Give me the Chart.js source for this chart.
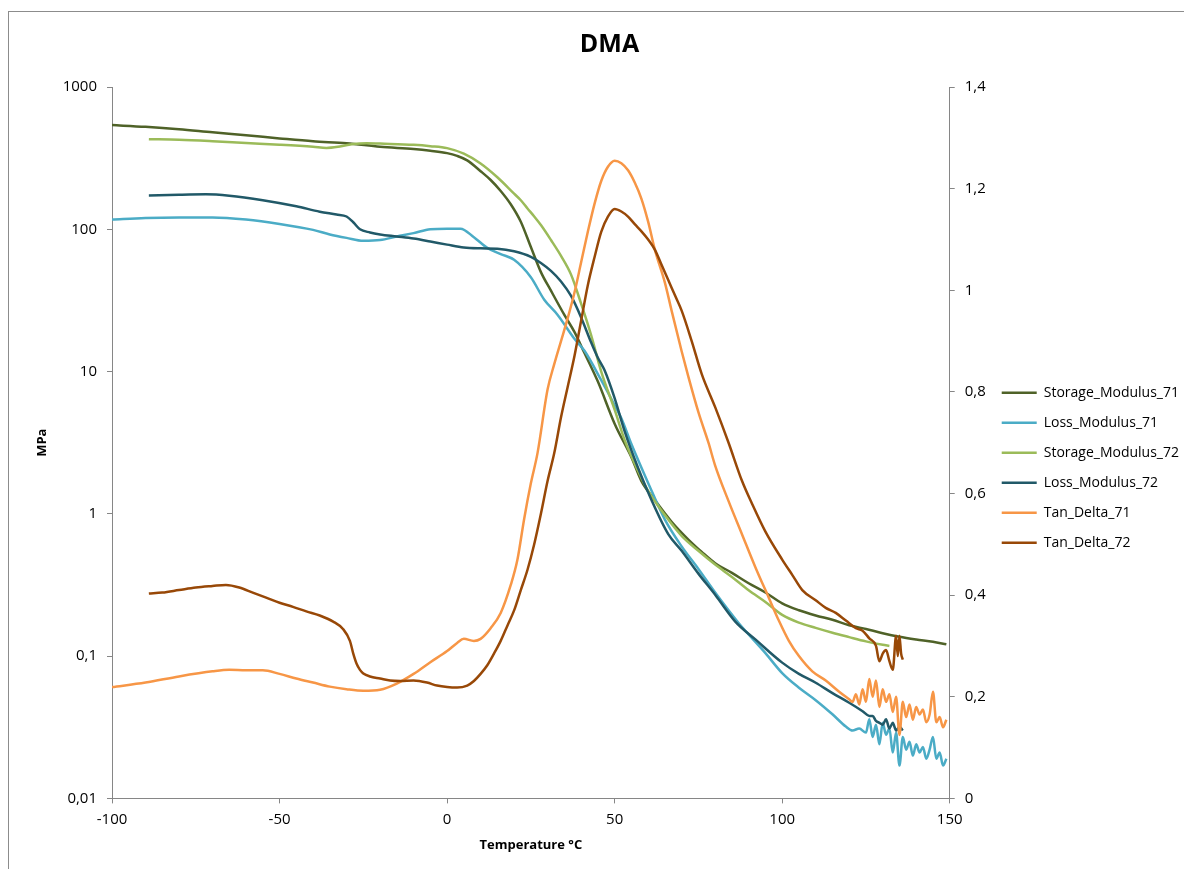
<!DOCTYPE html>
<html>
<head>
<meta charset="utf-8">
<script src="https://cdn.jsdelivr.net/npm/chart.js@4.4.0/dist/chart.umd.min.js"></script>
<style>
html, body { margin: 0; padding: 0; background: #fff; overflow: hidden; }
#frame { position: absolute; left: 8px; top: 11px; width: 1300px; height: 1000px; border: 1px solid #8c8c8c; }
#wrap { position: absolute; left: 9px; top: 12px; width: 1180px; height: 857px; }
</style>
</head>
<body>
<div id="frame"></div>
<div id="wrap"><canvas id="dma"></canvas></div>
<script>
// tick labels
var xTicks = [-100, -50, 0, 50, 100, 150];
var yTickVals = [0.01, 0.1, 1, 10, 100, 1000];
var yTickLabels = ["0,01", "0,1", "1", "10", "100", "1000"];
var y2TickVals = [0, 0.2, 0.4, 0.6, 0.8, 1, 1.2, 1.4];
var y2TickLabels = ["0", "0,2", "0,4", "0,6", "0,8", "1", "1,2", "1,4"];

// Storage_Modulus_71 (MPa)
var sm71Temp = [-100,-90,-80,-70,-60,-50,-40,-30,-20,-10,-5,0,3,6,10,13,16,19,22,25,28,31,35,38,41,45,50,55,58,62,67,72,76,80,85,90,95,100,105,110,115,120,125,130,135,140,145,149];
var sm71Val = [540,525,505,480,458,435,415,403,380,366,356,343,328,305,256,222,186,150,113,75,50,37,25,19,13.5,8.5,4.3,2.5,1.7,1.25,0.88,0.66,0.54,0.45,0.385,0.325,0.28,0.235,0.21,0.193,0.18,0.165,0.155,0.145,0.137,0.131,0.126,0.121];

// Loss_Modulus_71 (MPa)
var lm71Temp = [-100,-90,-80,-70,-60,-50,-40,-35,-30,-25,-20,-15,-10,-5,0,4,8,12,16,20,25,29,33,38,41,46,50,52,55,60,65,70,75,80,87,95,100,105,110,115,119,121,123,125,126,127,128,129,130,131,132,133,134,135,136,137,138,139,140,141,142,143,144,145,146,147,148,149];
var lm71Val = [117,120,121,121,117,109,99,92,87,83,84,89,94,100,101,101,88,74,67,61,46,32,25,17,14,8.7,5.8,4.7,3.1,1.65,0.91,0.59,0.41,0.28,0.171,0.105,0.076,0.06,0.049,0.039,0.032,0.030,0.031,0.029,0.036,0.027,0.033,0.024,0.034,0.028,0.031,0.021,0.029,0.017,0.027,0.022,0.025,0.020,0.024,0.021,0.023,0.019,0.022,0.027,0.019,0.021,0.017,0.019];

// Storage_Modulus_72 (MPa)
var sm72Temp = [-89,-80,-70,-60,-50,-40,-36,-32,-28,-24,-20,-10,-5,0,5,10,15,20,22,24,26,28,31,34,37,40,43,46,50,53,57,60,65,70,75,80,85,90,95,100,105,110,115,120,125,130,132];
var sm72Val = [430,426,416,404,393,380,373,382,398,403,400,392,384,372,340,290,232,178,160,140,123,107,84,65,48,30,18,10,5.4,3.3,2.0,1.45,0.98,0.7,0.55,0.44,0.36,0.29,0.24,0.195,0.172,0.158,0.146,0.136,0.127,0.12,0.118];

// Loss_Modulus_72 (MPa)
var lm72Temp = [-89,-80,-72,-65,-55,-45,-38,-33,-30,-28,-26,-23,-20,-15,-10,-5,0,5,10,15,20,25,28,31,34,37,40,43,45,47,50,53,57,61,66,70,75,80,86,92,100,105,110,115,120,124,126,127,128,129,130,131,132,133,134,135,136];
var lm72Val = [173,175,176,172,160,145,133,127,123,112,100,95,92,89,86,82,78,74.5,73.5,73,70,64,58,51,43,34,24,16,12.5,10.2,6.5,3.8,2.1,1.25,0.72,0.55,0.38,0.27,0.175,0.131,0.09,0.075,0.065,0.055,0.047,0.041,0.038,0.038,0.035,0.034,0.033,0.036,0.031,0.034,0.030,0.032,0.030];

// Tan_Delta_71 (right axis)
var td71Temp = [-100,-90,-80,-70,-65,-60,-55,-50,-45,-40,-35,-30,-25,-20,-15,-10,-5,0,3,5,8,10,13,16,19,21,23,25,27,30,32,34,36,38,40,42,44,46,48,50,52,54,56,58,60,62,65,67,70,72,75,78,80,84,88,92,96,99,102,105,109,113,117,120,121,122,123,124,125,126,127,128,129,130,131,132,133,134,135,136,137,138,139,140,141,142,143,144,145,146,147,148,149];
var td71Val = [0.219,0.228,0.24,0.25,0.253,0.252,0.252,0.245,0.236,0.228,0.22,0.215,0.212,0.214,0.226,0.245,0.268,0.29,0.306,0.314,0.31,0.314,0.335,0.365,0.42,0.47,0.55,0.62,0.68,0.805,0.855,0.9,0.945,0.995,1.055,1.115,1.17,1.215,1.243,1.255,1.25,1.236,1.212,1.18,1.135,1.08,1.015,0.96,0.88,0.83,0.76,0.70,0.655,0.585,0.52,0.455,0.395,0.35,0.31,0.28,0.25,0.232,0.21,0.195,0.19,0.205,0.185,0.215,0.19,0.235,0.2,0.232,0.18,0.215,0.19,0.205,0.17,0.2,0.125,0.19,0.16,0.185,0.155,0.18,0.165,0.175,0.15,0.165,0.21,0.15,0.16,0.14,0.155];

// Tan_Delta_72 (right axis)
var td72Temp = [-89,-85,-80,-75,-70,-66,-62,-58,-54,-50,-46,-42,-38,-34,-31,-29,-28,-27,-26,-25,-23,-20,-17,-14,-10,-6,-3,0,3,6,8,10,12,14,16,18,20,22,24,26,28,30,32,34,36,38,40,42,44,46,48,50,52,54,56,58,60,62,64,66,68,70,73,76,80,84,88,91,95,100,103,106,110,113,116,119,122,124,126,128,129,130,131,132,133,134,134.5,135,135.5,136];
var td72Val = [0.403,0.405,0.41,0.415,0.418,0.42,0.415,0.405,0.395,0.385,0.377,0.368,0.36,0.348,0.333,0.31,0.285,0.265,0.253,0.246,0.24,0.236,0.232,0.231,0.232,0.228,0.222,0.219,0.218,0.222,0.231,0.245,0.262,0.285,0.31,0.34,0.37,0.41,0.45,0.5,0.56,0.625,0.68,0.75,0.81,0.87,0.94,1.01,1.065,1.115,1.145,1.16,1.155,1.145,1.13,1.116,1.1,1.08,1.05,1.02,0.99,0.96,0.90,0.835,0.77,0.70,0.625,0.58,0.525,0.47,0.44,0.41,0.39,0.375,0.365,0.35,0.335,0.33,0.315,0.3,0.27,0.285,0.292,0.27,0.253,0.32,0.28,0.32,0.285,0.273];

var FONT = "'Open Sans', 'DejaVu Sans', sans-serif";
var AXIS_GREY = "#868686";

function pts(t, v) {
    return t.map(function (x, i) { return {x: x, y: v[i]}; });
}

function line(label, t, v, color, axis, order) {
    return {
        label: label,
        data: pts(t, v),
        borderColor: color,
        backgroundColor: color,
        borderWidth: 2.5,
        pointRadius: 0,
        cubicInterpolationMode: "monotone",
        fill: false,
        yAxisID: axis,
        order: order
    };
}

function axisLook() {
    return {
        grid: { drawOnChartArea: false, drawTicks: true, tickLength: 5, color: AXIS_GREY },
        border: { color: AXIS_GREY, width: 1 }
    };
}

function draw() {
    var chart = new Chart("dma", {
        type: "line",
        data: {
            datasets: [
                line("Storage_Modulus_71", sm71Temp, sm71Val, "#4f6228", "y", 6),
                line("Loss_Modulus_71", lm71Temp, lm71Val, "#4bacc6", "y", 5),
                line("Storage_Modulus_72", sm72Temp, sm72Val, "#9bbb59", "y", 4),
                line("Loss_Modulus_72", lm72Temp, lm72Val, "#215968", "y", 3),
                line("Tan_Delta_71", td71Temp, td71Val, "#f79646", "y2", 2),
                line("Tan_Delta_72", td72Temp, td72Val, "#984807", "y2", 1)
            ]
        },
        options: {
            responsive: true,
            maintainAspectRatio: false,
            animation: false,
            layout: { padding: { left: 21, right: 0, top: 0, bottom: 12 } },
            plugins: {
                title: {
                    display: true,
                    text: "DMA",
                    color: "#000",
                    font: { family: FONT, size: 25, weight: "bold" },
                    padding: { top: 18, bottom: 27 }
                },
                legend: {
                    position: "right",
                    maxWidth: 240,
                    title: { display: true, text: "", font: { size: 12 }, padding: { top: 52, bottom: 0 } },
                    labels: {
                        usePointStyle: true,
                        pointStyle: "line",
                        pointStyleWidth: 35,
                        color: "#000",
                        font: { family: FONT, size: 14 },
                        padding: 16,
                        sort: function (a, b) { return a.datasetIndex - b.datasetIndex; }
                    }
                },
                tooltip: { enabled: false }
            },
            scales: {
                x: Object.assign(axisLook(), {
                    type: "linear",
                    min: -100,
                    max: 150,
                    afterBuildTicks: function (s) { s.ticks = xTicks.map(function (v) { return {value: v}; }); },
                    ticks: {
                        color: "#000",
                        font: { family: FONT, size: 15 },
                        padding: 7,
                        callback: function (v) { return String(v); }
                    },
                    title: {
                        display: true,
                        text: "Temperature °C",
                        color: "#000",
                        font: { family: FONT, size: 13, weight: "bold" },
                        padding: { top: 2, bottom: 4 }
                    }
                }),
                y: Object.assign(axisLook(), {
                    type: "logarithmic",
                    position: "left",
                    min: 0.01,
                    max: 1000,
                    afterBuildTicks: function (s) { s.ticks = yTickVals.map(function (v) { return {value: v}; }); },
                    afterFit: function (s) { s.width = 82; },
                    ticks: {
                        color: "#000",
                        font: { family: FONT, size: 15 },
                        padding: 10,
                        callback: function (v) { var i = yTickVals.indexOf(v); return i >= 0 ? yTickLabels[i] : ""; }
                    },
                    title: {
                        display: true,
                        text: "MPa",
                        color: "#000",
                        font: { family: FONT, size: 13, weight: "bold" },
                        padding: { top: 4, bottom: 13 }
                    }
                }),
                y2: Object.assign(axisLook(), {
                    type: "linear",
                    position: "right",
                    min: 0,
                    max: 1.4,
                    afterBuildTicks: function (s) { s.ticks = y2TickVals.map(function (v) { return {value: v}; }); },
                    afterFit: function (s) { s.width = 36; },
                    ticks: {
                        color: "#000",
                        font: { family: FONT, size: 15 },
                        padding: 10,
                        callback: function (v, i) { return y2TickLabels[i]; }
                    }
                })
            }
        }
    });
}

// make sure the text is measured with the real font
Promise.all([
    document.fonts.load("14px 'Open Sans'"),
    document.fonts.load("15px 'Open Sans'"),
    document.fonts.load("bold 25px 'Open Sans'"),
    document.fonts.load("bold 13px 'Open Sans'")
]).then(draw, draw);
</script>
</body>
</html>
